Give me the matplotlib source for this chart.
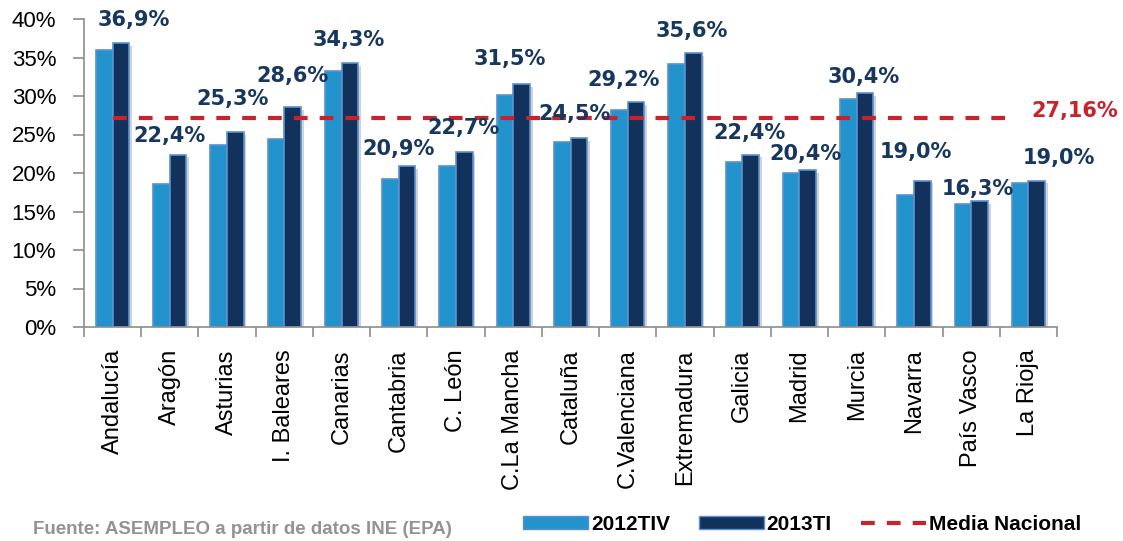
import numpy as np
import matplotlib
matplotlib.use('Agg')
import matplotlib.pyplot as plt
import matplotlib.patheffects as pe
from matplotlib.patches import Patch
from matplotlib.lines import Line2D

# Data
regiones = ['Andalucía', 'Aragón', 'Asturias', 'I. Baleares', 'Canarias',
            'Cantabria', 'C. León', 'C.La Mancha', 'Cataluña', 'C.Valenciana',
            'Extremadura', 'Galicia', 'Madrid', 'Murcia', 'Navarra',
            'País Vasco', 'La Rioja']
paro_2012tiv = [36.0, 18.6, 23.7, 24.4, 33.2, 19.2, 20.9, 30.1, 24.0, 28.2,
                34.1, 21.4, 20.0, 29.6, 17.1, 16.0, 18.7]
paro_2013ti = [36.9, 22.4, 25.3, 28.6, 34.3, 20.9, 22.7, 31.5, 24.5, 29.2,
               35.6, 22.4, 20.4, 30.4, 19.0, 16.3, 19.0]
media_nacional = 27.16
y_ticks = [0, 5, 10, 15, 20, 25, 30, 35, 40]

# label nudges in pixels (dx, dy above the 2013TI bar)
lbl_dx = [21, 0, 5, 8, 7, 0, 7, -4, 4, -4, 7, 7, 6, 7, 2, 7, 30]
lbl_dy = [23, 19, 33, 31, 23, 17, 24, 25, 24, 22, 22, 22, 16, 16, 29, 12, 23]

c_light = '#2393CD'
c_dark = '#13325B'
c_edge = '#5B91CF'
c_red = '#C8232C'
c_lbl = '#17375E'

fig = plt.figure(figsize=(11.23, 5.41), dpi=100)
ax = fig.add_axes([84/1123, 1-327/541, (1057-84)/1123, (327-19)/541])

x = np.arange(len(regiones))
w = 0.29
shadow = [pe.SimplePatchShadow(offset=(2, -2), shadow_rgbFace='gray', alpha=0.35), pe.Normal()]
b1 = ax.bar(x - w/2, paro_2012tiv, w, color=c_light, edgecolor=c_edge, linewidth=1.2)
b2 = ax.bar(x + w/2, paro_2013ti, w, color=c_dark, edgecolor=c_edge, linewidth=1.2)
for r in list(b1) + list(b2):
    r.set_path_effects(shadow)

# media nacional
ax.plot([x[0], x[-1] - 0.25], [media_nacional, media_nacional], color=c_red,
        lw=3, dashes=(3.3, 2.9), zorder=5)
ax.annotate(f'{media_nacional:.2f}%'.replace('.', ','), xy=(1, media_nacional),
            xycoords=('axes fraction', 'data'), xytext=(-26, 7),
            textcoords='offset pixels', ha='left', va='center', color=c_red,
            fontsize=15, fontweight='bold', family='DejaVu Sans', annotation_clip=False)

# data labels
for i, v in enumerate(paro_2013ti):
    ax.annotate(f'{v:.1f}%'.replace('.', ','), xy=(x[i], v), xytext=(lbl_dx[i], lbl_dy[i]),
                textcoords='offset pixels', ha='center', va='center', color=c_lbl,
                fontsize=15, fontweight='bold', family='DejaVu Sans', zorder=6)

ax.set_xlim(-0.5, len(regiones) - 0.5)
ax.set_ylim(0, 40)
ax.set_yticks(y_ticks)
ax.set_yticklabels([f'{t}%' for t in y_ticks], family='Liberation Sans', fontsize=16)
ax.set_xticks(x)
ax.set_xticklabels(regiones, rotation=90, family='Liberation Sans', fontsize=17)
ax.set_xticks(np.arange(len(regiones) + 1) - 0.5, minor=True)
ax.tick_params(axis='x', which='major', length=0, pad=16)
ax.tick_params(axis='x', which='minor', length=7, color='#8c8c8c', width=1.2)
ax.tick_params(axis='y', length=8, color='#8c8c8c', width=1.2, pad=12)
for s in ['top', 'right']:
    ax.spines[s].set_visible(False)
for s in ['left', 'bottom']:
    ax.spines[s].set_color('#8c8c8c')
    ax.spines[s].set_linewidth(1.2)

# legend
handles = [Patch(facecolor=c_light, edgecolor=c_edge),
           Patch(facecolor=c_dark, edgecolor=c_edge),
           Line2D([], [], color=c_red, lw=3, dashes=(3.3, 2.9))]
fig.legend(handles, ['2012TIV', '2013TI', 'Media Nacional'], ncol=3, frameon=False,
           loc='center', bbox_to_anchor=(802/1123, 1-524/541),
           prop={'family': 'Liberation Sans', 'size': 15, 'weight': 'bold'},
           handlelength=3.1, handleheight=0.6, handletextpad=0.15, columnspacing=1.4)

fig.text(33/1123, 1-530/541, 'Fuente: ASEMPLEO a partir de datos INE (EPA)',
         color='#939393', fontsize=13.5, fontweight='bold', family='Liberation Sans',
         va='center', ha='left')

fig.savefig('out.png', dpi=100)
